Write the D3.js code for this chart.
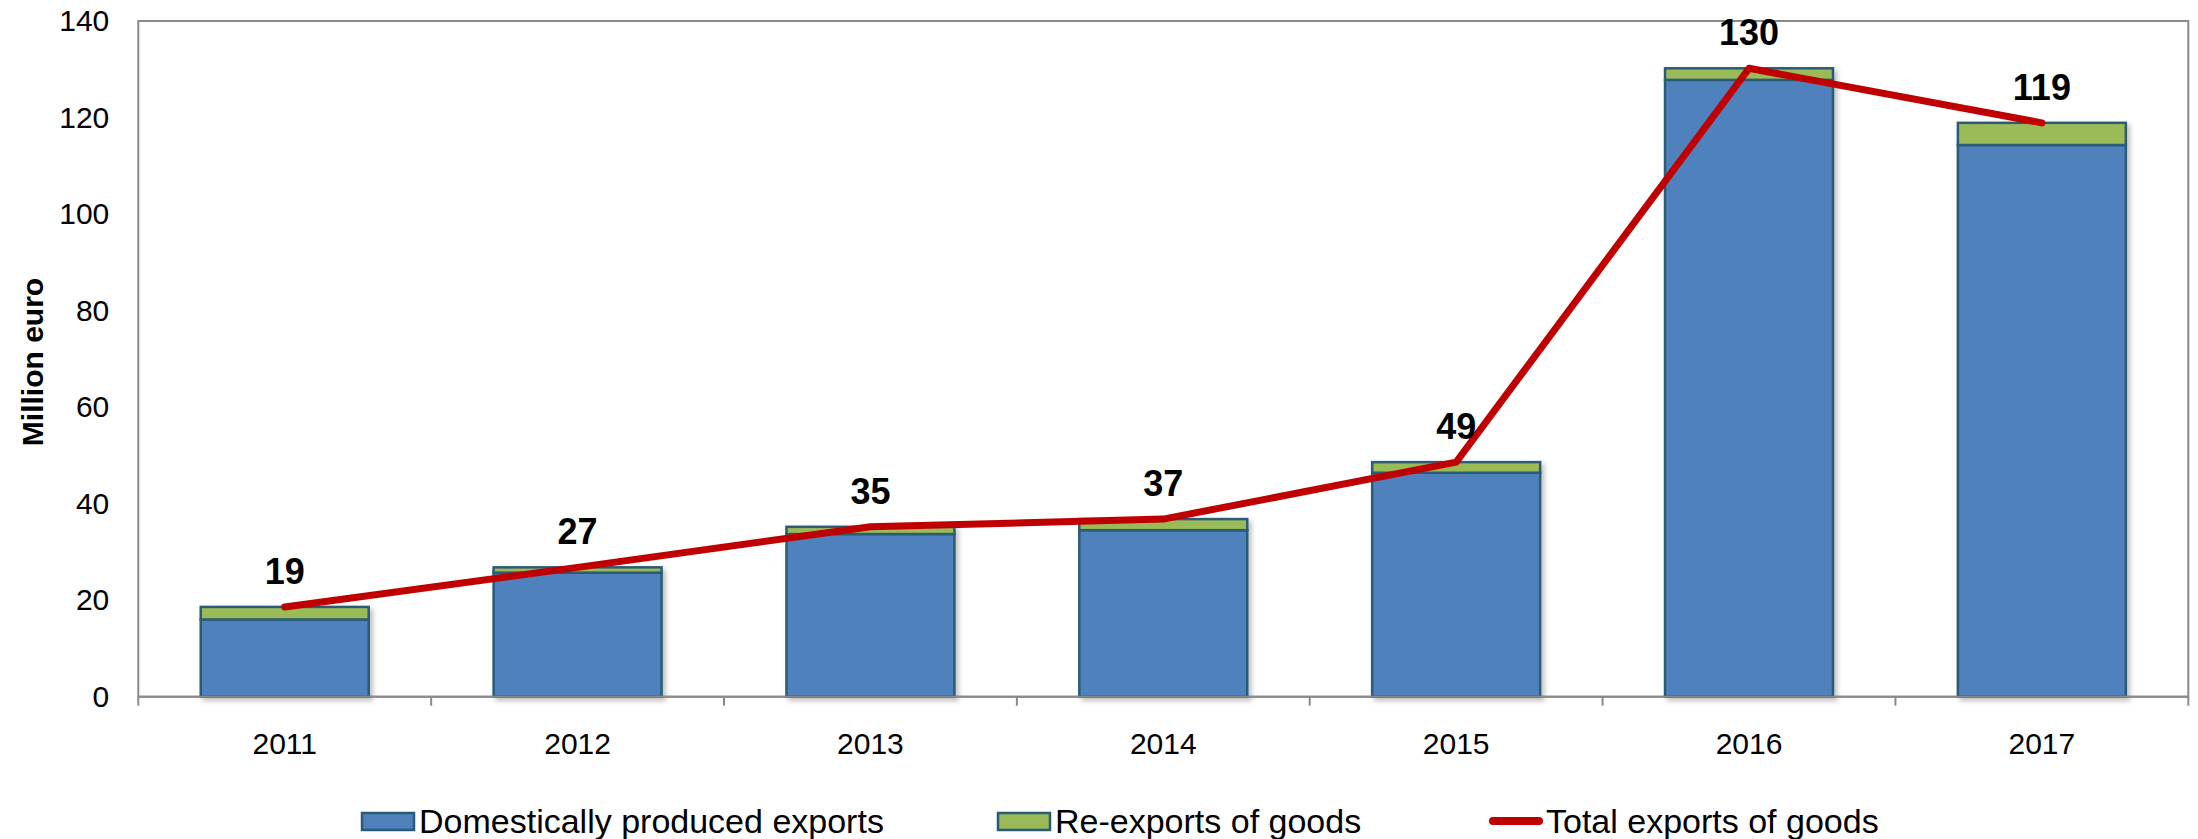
<!DOCTYPE html>
<html>
<head>
<meta charset="utf-8">
<script src="https://cdn.jsdelivr.net/npm/d3@7"></script>
<style>
  body { margin: 0; background: #fff; }
  text { font-family: Arial, "Liberation Sans", sans-serif; fill: #000; }
</style>
</head>
<body>
<div id="chart"></div>
<script>
  // DATA
  var years = ["2011", "2012", "2013", "2014", "2015", "2016", "2017"];
  var domestic = [16.0, 25.7, 33.7, 34.5, 46.4, 127.8, 114.3];
  var reexports = [2.6, 1.1, 1.5, 2.3, 2.2, 2.4, 4.6];
  var totals = [18.6, 26.8, 35.2, 36.8, 48.6, 130.2, 118.9];
  var yTicks = [0, 20, 40, 60, 80, 100, 120, 140];
  var seriesNames = ["Domestically produced exports", "Re-exports of goods", "Total exports of goods"];

  var W = 2198, H = 839;
  // plot area (note: "top" is reserved on window, so use plot* names)
  var plotLeft = 138.3, plotRight = 2188.3, plotTop = 21, plotBottom = 696.7;

  var svg = d3.select("#chart")
    .append("svg")
    .attr("width", W)
    .attr("height", H);

  // soft drop shadow like the excel bars
  var defs = svg.append("defs");
  var f = defs.append("filter").attr("id", "shadow")
    .attr("x", "-10%").attr("y", "-10%").attr("width", "130%").attr("height", "130%");
  f.append("feDropShadow")
    .attr("dx", 3).attr("dy", 3).attr("stdDeviation", 2.5)
    .attr("flood-color", "#000").attr("flood-opacity", 0.25);

  var x = d3.scaleBand()
    .domain(years)
    .range([plotLeft, plotRight])
    .paddingInner(0.4265)
    .paddingOuter(0.21325);

  var y = d3.scaleLinear()
    .domain([0, 140])
    .range([plotBottom, plotTop]);

  var rows = years.map(function(d, i) {
    return {year: d, domestic: domestic[i], reexports: reexports[i], total: totals[i]};
  });

  // plot border
  svg.append("rect")
    .attr("x", plotLeft).attr("y", plotTop)
    .attr("width", plotRight - plotLeft).attr("height", plotBottom - plotTop)
    .attr("fill", "none")
    .attr("stroke", "#8a8a8a")
    .attr("stroke-width", 2);

  // bars
  var bars = svg.append("g").attr("filter", "url(#shadow)");
  bars.selectAll("rect.dom")
    .data(rows)
    .enter()
    .append("rect")
    .attr("class", "dom")
    .attr("x", function(d) { return x(d.year); })
    .attr("width", x.bandwidth())
    .attr("y", function(d) { return y(d.domestic); })
    .attr("height", function(d) { return y(0) - y(d.domestic); })
    .attr("fill", "#4F81BD")
    .attr("stroke", "#2A5B76")
    .attr("stroke-width", 2.5);

  bars.selectAll("rect.re")
    .data(rows)
    .enter()
    .append("rect")
    .attr("class", "re")
    .attr("x", function(d) { return x(d.year); })
    .attr("width", x.bandwidth())
    .attr("y", function(d) { return y(d.domestic + d.reexports); })
    .attr("height", function(d) { return y(d.domestic) - y(d.domestic + d.reexports); })
    .attr("fill", "#9BBB59")
    .attr("stroke", "#2A5B76")
    .attr("stroke-width", 2.5);

  // bottom axis line drawn over the bars
  svg.append("line")
    .attr("x1", plotLeft).attr("x2", plotRight)
    .attr("y1", plotBottom).attr("y2", plotBottom)
    .attr("stroke", "#8a8a8a").attr("stroke-width", 2);

  // x ticks at category boundaries
  var bounds = years.map(function(d) { return x(d) + x.bandwidth() / 2 - x.step() / 2; });
  bounds.push(plotRight);
  svg.append("g").selectAll("line")
    .data(bounds)
    .enter()
    .append("line")
    .attr("x1", function(d) { return d; })
    .attr("x2", function(d) { return d; })
    .attr("y1", plotBottom)
    .attr("y2", plotBottom + 9)
    .attr("stroke", "#8a8a8a")
    .attr("stroke-width", 2);

  // x labels
  var xAxis = svg.append("g")
    .attr("transform", "translate(0," + plotBottom + ")")
    .call(d3.axisBottom(x).tickSize(0).tickPadding(0));
  xAxis.select(".domain").remove();
  xAxis.selectAll("text")
    .attr("y", 57)
    .attr("dy", null)
    .style("font-size", "30px")
    .style("font-family", "Arial, 'Liberation Sans', sans-serif");

  // y labels
  var yAxis = svg.append("g")
    .attr("transform", "translate(" + plotLeft + ",0)")
    .call(d3.axisLeft(y).tickValues(yTicks).tickSize(0).tickPadding(29));
  yAxis.select(".domain").remove();
  yAxis.selectAll("text")
    .style("font-size", "30px")
    .style("font-family", "Arial, 'Liberation Sans', sans-serif");

  // y title
  svg.append("text")
    .attr("transform", "translate(43, 362)rotate(-90)")
    .attr("text-anchor", "middle")
    .style("font-size", "30px")
    .style("font-weight", "bold")
    .text("Million euro");

  // total line
  var line = d3.line()
    .x(function(d) { return x(d.year) + x.bandwidth() / 2; })
    .y(function(d) { return y(d.total); });

  svg.append("path")
    .datum(rows)
    .attr("d", line)
    .attr("fill", "none")
    .attr("stroke", "#C00000")
    .attr("stroke-width", 7)
    .attr("stroke-linecap", "round")
    .attr("stroke-linejoin", "round");

  // data labels
  svg.append("g").selectAll("text")
    .data(rows)
    .enter()
    .append("text")
    .attr("x", function(d) { return x(d.year) + x.bandwidth() / 2; })
    .attr("y", function(d) { return y(d.total) - 23; })
    .attr("text-anchor", "middle")
    .style("font-size", "36px")
    .style("font-weight", "bold")
    .text(function(d) { return d3.format(".0f")(d.total); });

  // legend
  var legend = svg.append("g");
  var legendX = [362, 998, 1489];
  var ly = 821;

  legend.append("rect")
    .attr("x", legendX[0]).attr("y", ly - 8)
    .attr("width", 52).attr("height", 17)
    .attr("fill", "#4F81BD").attr("stroke", "#2A5B76").attr("stroke-width", 2.5);
  legend.append("rect")
    .attr("x", legendX[1]).attr("y", ly - 8)
    .attr("width", 52).attr("height", 17)
    .attr("fill", "#9BBB59").attr("stroke", "#2A5B76").attr("stroke-width", 2.5);
  legend.append("line")
    .attr("x1", legendX[2] + 4).attr("x2", legendX[2] + 50)
    .attr("y1", ly).attr("y2", ly)
    .attr("stroke", "#C00000").attr("stroke-width", 8)
    .attr("stroke-linecap", "round");

  legend.selectAll("text")
    .data(seriesNames)
    .enter()
    .append("text")
    .attr("x", function(d, i) { return legendX[i] + 57; })
    .attr("y", ly + 12)
    .style("font-size", "34px")
    .text(function(d) { return d; });
</script>
</body>
</html>
